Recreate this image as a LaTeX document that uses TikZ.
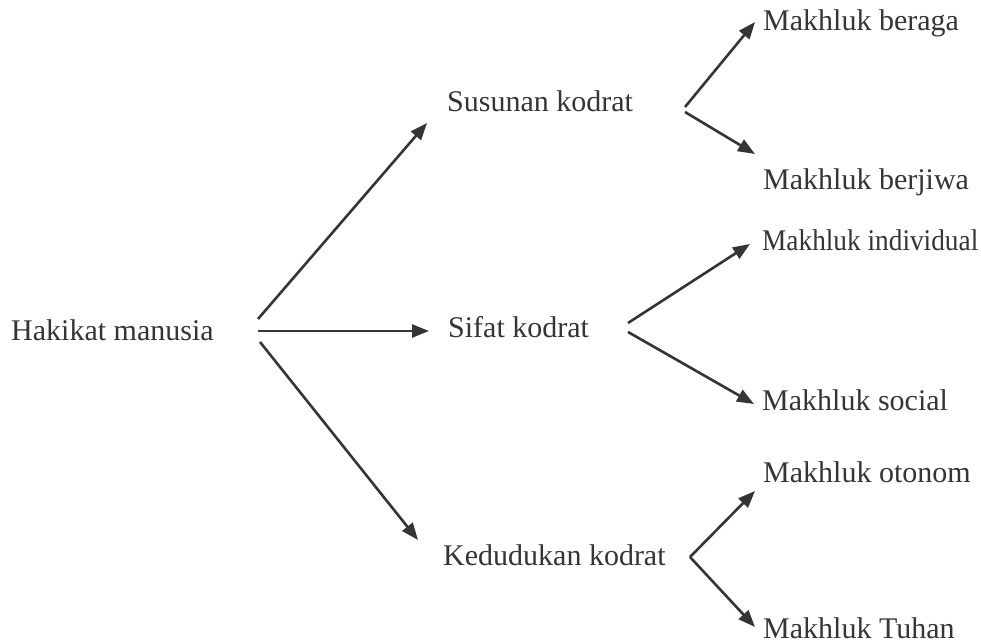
\documentclass[tikz,border=0pt]{standalone}
\usepackage{fontspec}
\setmainfont{Liberation Serif}
\usetikzlibrary{arrows.meta}
\definecolor{ink}{HTML}{353535}
\begin{document}
\begin{tikzpicture}[x=1pt,y=-1pt,
  lbl/.style={anchor=base west,inner sep=0pt,text=ink,font=\fontsize{30}{36}\selectfont},
  arr/.style={draw=ink,line width=2.6pt,-{Triangle[length=17pt,width=13pt]}}]
\useasboundingbox[fill=white] (0,0) rectangle (981,644);
% labels
\node[lbl] (hak) at (11,340) {Hakikat manusia};
\node[lbl] (sus) at (447,112) {Susunan kodrat};
\node[lbl] (sif) at (448,337) {Sifat kodrat};
\node[lbl] (ked) at (443,565) {Kedudukan kodrat};
\node[lbl] (ber) at (763,31) {Makhluk beraga};
\node[lbl] (jiw) at (763,190) {Makhluk berjiwa};
\node[lbl] (ind) at (762,250) {\scalebox{0.91}[1]{Makhluk individual}};
\node[lbl] (soc) at (762,410) {Makhluk social};
\node[lbl] (oto) at (763,482) {Makhluk otonom};
\node[lbl] (tuh) at (763,638) {Makhluk Tuhan};
% connector end points
\coordinate (h1) at (258,319);
\coordinate (h2) at (258,331);
\coordinate (h3) at (260,342);
\coordinate (susin) at (427,123);
\coordinate (sifin) at (429,331);
\coordinate (kedin) at (418,540);
\coordinate (s1) at (685,107);
\coordinate (s2) at (685,112);
\coordinate (berin) at (755,22);
\coordinate (jiwin) at (755,154);
\coordinate (f1) at (628,323);
\coordinate (f2) at (628,332);
\coordinate (indin) at (750,244);
\coordinate (socin) at (754,404);
\coordinate (k0) at (690,557);
\coordinate (otoin) at (755,491);
\coordinate (tuhin) at (755,627);
% connectors
\draw[arr] (h1) -- (susin);
\draw[arr] (h2) -- (sifin);
\draw[arr] (h3) -- (kedin);
\draw[arr] (s1) -- (berin);
\draw[arr] (s2) -- (jiwin);
\draw[arr] (f1) -- (indin);
\draw[arr] (f2) -- (socin);
\draw[arr] (k0) -- (otoin);
\draw[arr] (k0) -- (tuhin);
\end{tikzpicture}
\end{document}
